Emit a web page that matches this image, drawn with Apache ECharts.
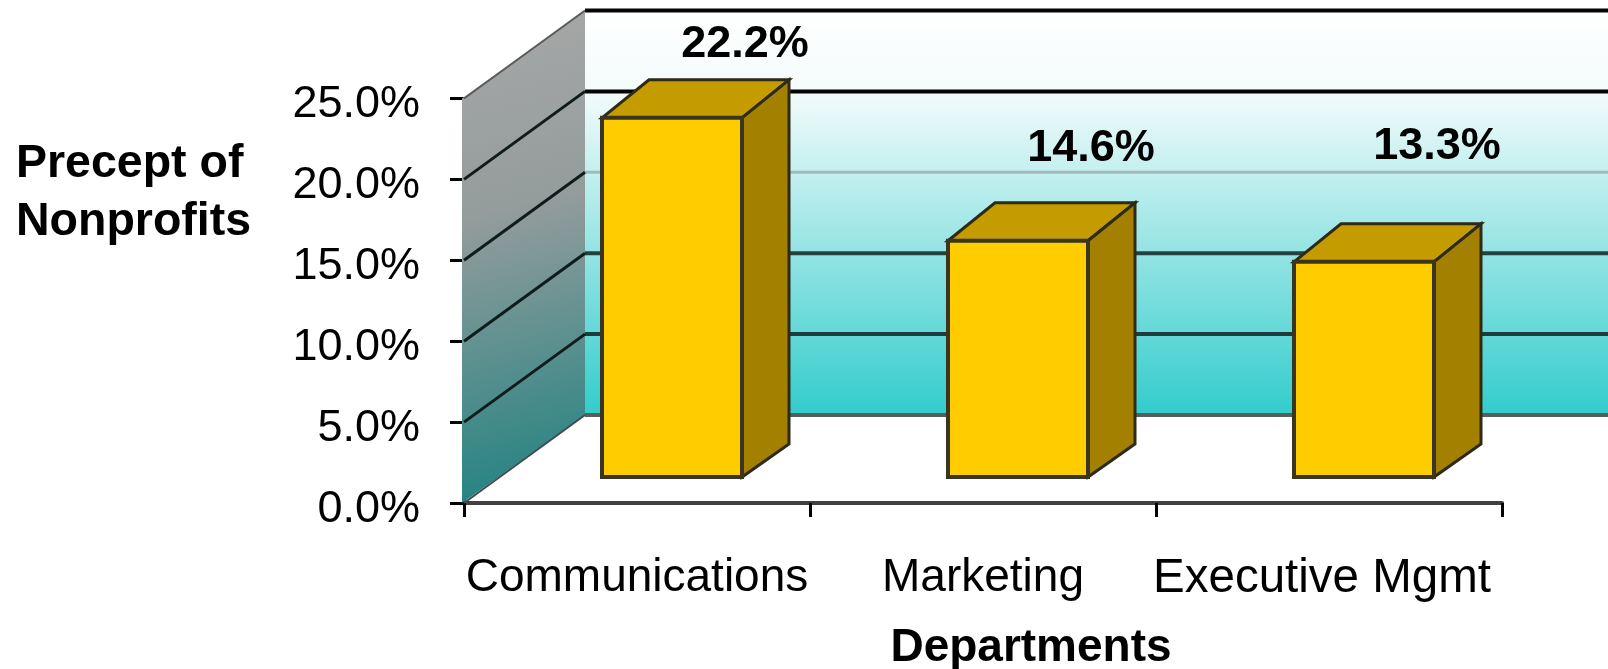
<!DOCTYPE html>
<html>
<head>
<meta charset="utf-8">
<style>html,body{margin:0;padding:0;background:#fff}#c{width:1608px;height:669px}</style>
<script src="https://cdn.jsdelivr.net/npm/echarts@6/dist/echarts.min.js"></script>
</head>
<body>
<div id="c"></div>
<script>
const categories = ['Communications', 'Marketing', 'Executive Mgmt'];
const percentValues = [22.2, 14.6, 13.3];
const wallTicks = [0, 5, 10, 15, 20, 25];
const yAxisName = 'Precept of\nNonprofits';
const xAxisName = 'Departments';

// projection of the fake 3D box, in pixels (style only, not data)
const WALL_DX = 121, WALL_DY = 88;
const BAR_DX = 35, BAR_DY = 26, BAR_DEPTH_X = 47, BAR_DEPTH_TOP = 38, BAR_DEPTH_BOTTOM = 33, BAR_W = 140;
const LABEL_DX = 108;
const labelRise = [73, 92, 115];
const wallLineColors = { 0: '#555f5f', 5: '#1e3c3c', 10: '#24403f', 15: '#a3b8b8', 20: '#050505', 25: '#050505' };
const FONT = '"Liberation Sans", Arial, sans-serif';

const chart = echarts.init(document.getElementById('c'), null, { renderer: 'canvas' });

function renderBackWall(params, api) {
  const cs = params.coordSys;
  const top = api.coord([0, 25]), bottom = api.coord([0, 0]);
  const x0 = cs.x + WALL_DX, y0 = top[1] - WALL_DY, y1 = bottom[1] - WALL_DY;
  return {
    type: 'group',
    children: [
      {
        type: 'rect',
        shape: { x: x0, y: y0, width: api.getWidth() - x0, height: y1 - y0 },
        style: {
          fill: new echarts.graphic.LinearGradient(0, 0, 0, 1, [
            { offset: 0, color: '#ffffff' },
            { offset: 0.2, color: '#f4fbfb' },
            { offset: 1, color: '#33cccc' }
          ])
        }
      },
      {
        type: 'polygon',
        shape: { points: [[cs.x - 2, top[1]], [x0, y0], [x0, y1], [cs.x - 2, bottom[1]]] },
        style: {
          fill: new echarts.graphic.LinearGradient(0, 0, 1, 1, [
            { offset: 0, color: '#a8a8a8' },
            { offset: 0.4, color: '#949c9c' },
            { offset: 1, color: '#1b8280' }
          ])
        }
      }
    ]
  };
}

function renderWallLine(params, api) {
  const cs = params.coordSys;
  const v = api.value(1);
  const p = api.coord([0, v]);
  const x0 = cs.x + WALL_DX, y = p[1] - WALL_DY;
  const color = wallLineColors[v];
  const children = [
    {
      type: 'line',
      shape: { x1: x0, y1: y, x2: api.getWidth(), y2: y },
      style: { stroke: color, lineWidth: v === 15 ? 3 : 4 }
    }
  ];
  if (v > 0 && v < 25) {
    children.push({
      type: 'line',
      shape: { x1: cs.x, y1: p[1], x2: x0, y2: y },
      style: { stroke: '#101c1c', lineWidth: 3 }
    });
  }
  if (v === 0) {
    children.push({
      type: 'line',
      shape: { x1: cs.x, y1: p[1], x2: x0, y2: y },
      style: { stroke: '#3d4d4d', lineWidth: 2 }
    });
  }
  if (v === 25) {
    children.push({
      type: 'line',
      shape: { x1: cs.x, y1: p[1], x2: x0, y2: y },
      style: { stroke: '#5a5a5a', lineWidth: 2 }
    });
  }
  return { type: 'group', children };
}

function renderBar(params, api) {
  const i = api.value(0);
  const v = api.value(1);
  const topP = api.coord([i, v]);
  const baseP = api.coord([i, 0]);
  const xl = topP[0] + BAR_DX - BAR_W / 2, xr = xl + BAR_W;
  const yt = topP[1] - BAR_DY, yb = baseP[1] - BAR_DY;
  const edge = { stroke: '#2e2a18', lineWidth: 3, lineJoin: 'miter' };
  return {
    type: 'group',
    children: [
      {
        type: 'polygon',
        shape: { points: [[xl, yt], [xl + BAR_DEPTH_X, yt - BAR_DEPTH_TOP], [xr + BAR_DEPTH_X, yt - BAR_DEPTH_TOP], [xr, yt]] },
        style: Object.assign({ fill: '#c49c00' }, edge)
      },
      {
        type: 'polygon',
        shape: { points: [[xr, yt], [xr + BAR_DEPTH_X, yt - BAR_DEPTH_TOP], [xr + BAR_DEPTH_X, yb - BAR_DEPTH_BOTTOM], [xr, yb]] },
        style: Object.assign({ fill: '#a38000' }, edge)
      },
      {
        type: 'rect',
        shape: { x: xl, y: yt, width: BAR_W, height: yb - yt },
        style: { fill: '#ffcc00', stroke: '#3a3520', lineWidth: 4 }
      },
      {
        type: 'text',
        style: {
          x: topP[0] + LABEL_DX,
          y: yt - labelRise[params.dataIndex],
          text: v.toFixed(1) + '%',
          fill: '#000',
          font: 'bold 45px ' + FONT,
          textAlign: 'center',
          textVerticalAlign: 'middle'
        }
      }
    ]
  };
}

chart.setOption({
  animation: false,
  backgroundColor: '#ffffff',
  title: [
    {
      text: yAxisName,
      left: 11,
      top: 130,
      textStyle: { fontFamily: FONT, fontWeight: 'bold', fontSize: 46.5, lineHeight: 58, color: '#000' }
    }
  ],
  grid: { left: 464, top: 98.5, width: 1038, height: 404.5, containLabel: false, outerBoundsMode: 'none' },
  xAxis: {
    type: 'category',
    data: categories.map((name, i) =>
      i === 2 ? { value: name, textStyle: { fontSize: 47.5, padding: [0, 14, 0, 0] } } : name
    ),
    boundaryGap: true,
    name: xAxisName,
    nameLocation: 'middle',
    nameGap: 122,
    nameTextStyle: {
      fontFamily: FONT, fontWeight: 'bold', fontSize: 46, color: '#000',
      padding: [0, 0, 0, 96]
    },
    axisLine: { show: true, lineStyle: { color: '#404040', width: 4 } },
    axisTick: { show: true, alignWithLabel: false, length: 14, lineStyle: { color: '#000', width: 3 } },
    axisLabel: { fontFamily: FONT, fontSize: 46, color: '#000', margin: 52, interval: 0 },
    splitLine: { show: false }
  },
  yAxis: {
    type: 'value',
    min: 0,
    max: 25,
    interval: 5,
    axisLine: { show: true, onZero: false, lineStyle: { color: '#505050', width: 3 } },
    axisTick: { show: true, length: 14, lineStyle: { color: '#000', width: 3 } },
    axisLabel: {
      fontFamily: FONT, fontSize: 45, color: '#000', margin: 44,
      formatter: (v) => '{t|' + v.toFixed(1) + '%}',
      rich: { t: { fontFamily: FONT, fontSize: 45, color: '#000', padding: [13, 0, 0, 0] } }
    },
    splitLine: { show: false }
  },
  series: [
    {
      type: 'custom',
      name: 'walls',
      coordinateSystem: 'cartesian2d',
      clip: false,
      silent: true,
      z: 1,
      data: [[0, 25]],
      renderItem: renderBackWall
    },
    {
      type: 'custom',
      name: 'wall lines',
      coordinateSystem: 'cartesian2d',
      clip: false,
      silent: true,
      z: 2,
      data: wallTicks.map((t) => [0, t]),
      renderItem: renderWallLine
    },
    {
      type: 'custom',
      name: 'Percent of Nonprofits',
      coordinateSystem: 'cartesian2d',
      clip: false,
      z: 3,
      encode: { x: 0, y: 1 },
      data: percentValues.map((v, i) => [i, v]),
      renderItem: renderBar
    }
  ]
});
</script>
</body>
</html>
